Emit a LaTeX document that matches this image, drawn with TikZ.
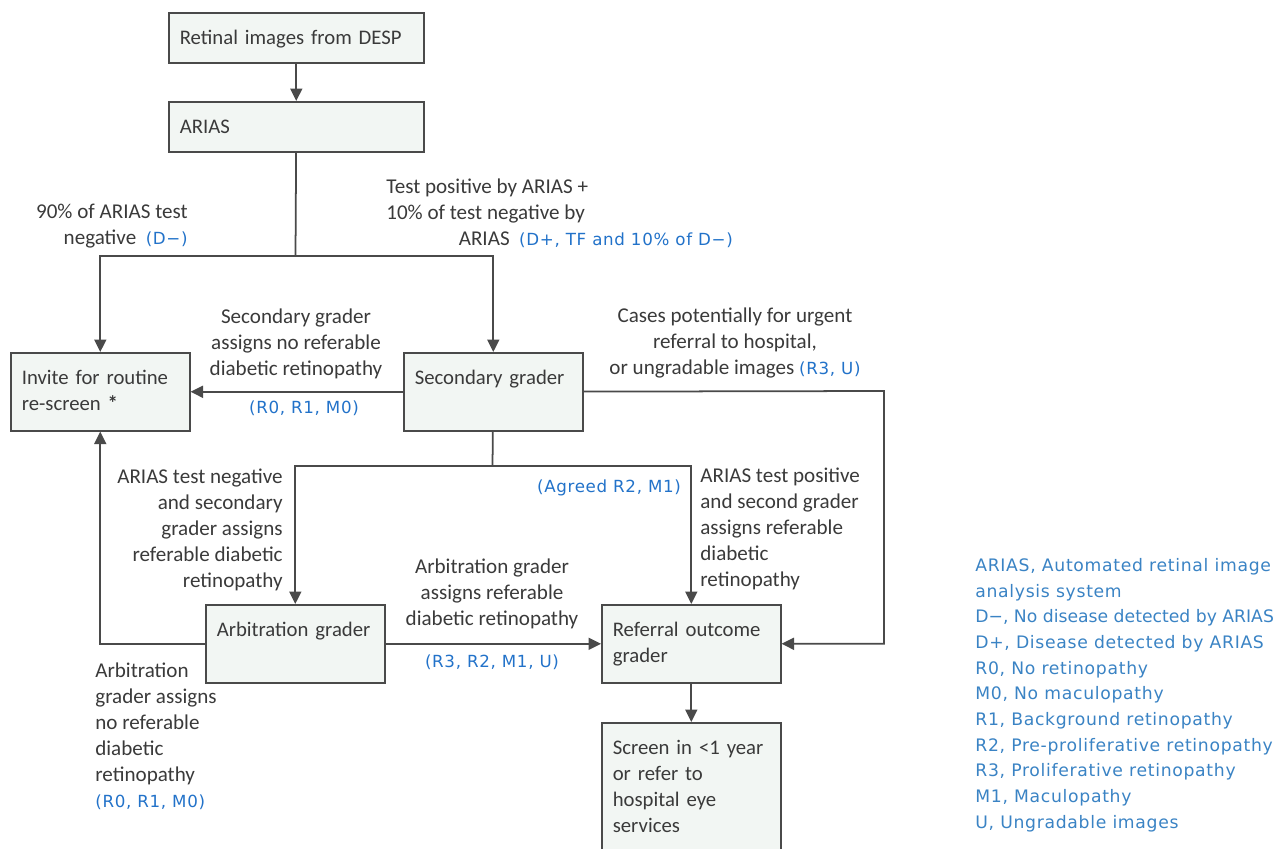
\documentclass[tikz,border=0pt]{standalone}
\usepackage{fontspec}
\setmainfont{Carlito}
\newfontfamily\gradefont[LetterSpace=4]{DejaVu Sans}
\usetikzlibrary{arrows.meta}
\definecolor{txtgrey}{HTML}{3A3A3A}
\definecolor{boxfill}{HTML}{F2F6F3}
\definecolor{linegrey}{HTML}{4A4A4A}
\definecolor{gradeblue}{HTML}{2272C9}
\definecolor{keyblue}{HTML}{3A83C4}
\newcommand{\grades}[1]{{\gradefont\fontsize{9.5}{14.8}\selectfont\color{gradeblue}#1}}

\begin{document}
\begin{tikzpicture}[x = 0.02cm, y = -0.02cm,
    flowbox/.style = {draw = linegrey, fill = boxfill, line width = 0.9pt, anchor = north west,
                      align = left, text width = 3.14cm, inner xsep = 0.22cm, inner ysep = 0.28cm,
                      text height = 0.36cm, text depth = 0.64cm, text = txtgrey,
                      font = \fontsize{11.8}{14.8}\selectfont},
    remark/.style = {text = txtgrey, inner sep = 0pt, font = \fontsize{12}{14.8}\selectfont},
    gcode/.style = {inner sep = 0pt, text = gradeblue, font = \gradefont\fontsize{9.5}{14.8}\selectfont},
    link/.style = {draw = linegrey, line width = 1pt},
    linkarr/.style = {link, -{Triangle[length = 0.25cm, width = 0.24cm]}}]
  \useasboundingbox (0, 0) rectangle (1282, 849);
  % boxes
  \node [flowbox, text width = 4.66cm, text depth = 0.08cm] (ret) at (168, 12) {Retinal images from DESP};
  \node [flowbox, text width = 4.66cm, text depth = 0.08cm] (arias) at (168, 101) {ARIAS};
  \node [flowbox] (invite) at (10, 352) {Invite for routine\\re-screen {\bfseries *}};
  \node [flowbox] (second) at (403, 352) {Secondary grader};
  \node [flowbox] (arbit) at (205, 604) {Arbitration grader};
  \node [flowbox] (refer) at (601, 604) {Referral outcome\\grader};
  \node [flowbox, text depth = 2cm] (screen) at (601, 722) {Screen in <1 year\\or refer to\\hospital eye\\services};
  \coordinate (split) at (295.5, 256);
  \coordinate (agree) at (492.5, 466);
  \coordinate (urgent) at (884, 391);
  % connectors
  \draw [linkarr] (ret) -- (arias);
  \draw [link] (arias) -- (split);
  \draw [linkarr] (split) -| (invite);
  \draw [linkarr] (split) -| (second);
  \draw [linkarr] (second) -- (invite);
  \draw [linkarr] (second) -- (urgent) |- (refer);
  \draw [link] (second) -- (agree);
  \draw [linkarr] (agree) -| (arbit);
  \draw [linkarr] (agree) -| (refer);
  \draw [linkarr] (arbit) -- (refer);
  \draw [linkarr] (arbit) -| (invite);
  \draw [linkarr] (refer) -- (screen);
  % labels
  \node [remark, align = right, anchor = east] (negnote) at (188, 226) {90\% of ARIAS test\\negative\ \ \grades{(D−)}};
  \node [remark, align = left, anchor = west] (posnote) at (386, 213) {Test positive by ARIAS +\\10\% of test negative by\\\hspace*{1.45cm}ARIAS\ \ \grades{(D+, TF and 10\% of D−)}};
  \node [remark, align = center] (nonote) at (296, 344) {Secondary grader\\assigns no referable\\diabetic retinopathy};
  \node [gcode] (nocode) at (304, 408) {(R0, R1, M0)};
  \node [remark, align = center] (urgnote) at (735, 343) {Cases potentially for urgent\\referral to hospital,\\or ungradable images \grades{(R3, U)}};
  \node [gcode] (agrcode) at (609, 488) {(Agreed R2, M1)};
  \node [remark, align = right, anchor = east] (negsec) at (283, 530) {ARIAS test negative\\and secondary\\grader assigns\\referable diabetic\\retinopathy};
  \node [remark, align = left, anchor = west] (possec) at (700, 529) {ARIAS test positive\\and second grader\\assigns referable\\diabetic\\retinopathy};
  \node [remark, align = center] (arbnote) at (492, 594) {Arbitration grader\\assigns referable\\diabetic retinopathy};
  \node [gcode] (arbcode) at (492, 662) {(R3, R2, M1, U)};
  \node [remark, align = left, anchor = west] (arbno) at (95, 736) {Arbitration\\grader assigns\\no referable\\diabetic\\retinopathy\\\grades{(R0, R1, M0)}};
  \node [inner sep = 0pt, anchor = west, align = left, text = keyblue,
         font = \gradefont\fontsize{9.8}{14.6}\selectfont] (legend) at (975, 695)
        {ARIAS, Automated retinal image\\analysis system\\{\addfontfeature{LetterSpace=0}D−, No disease detected by ARIAS}\\D+, Disease detected by ARIAS\\R0, No retinopathy\\M0, No maculopathy\\R1, Background retinopathy\\R2, Pre-proliferative retinopathy\\R3, Proliferative retinopathy\\M1, Maculopathy\\U, Ungradable images};
\end{tikzpicture}
\end{document}
